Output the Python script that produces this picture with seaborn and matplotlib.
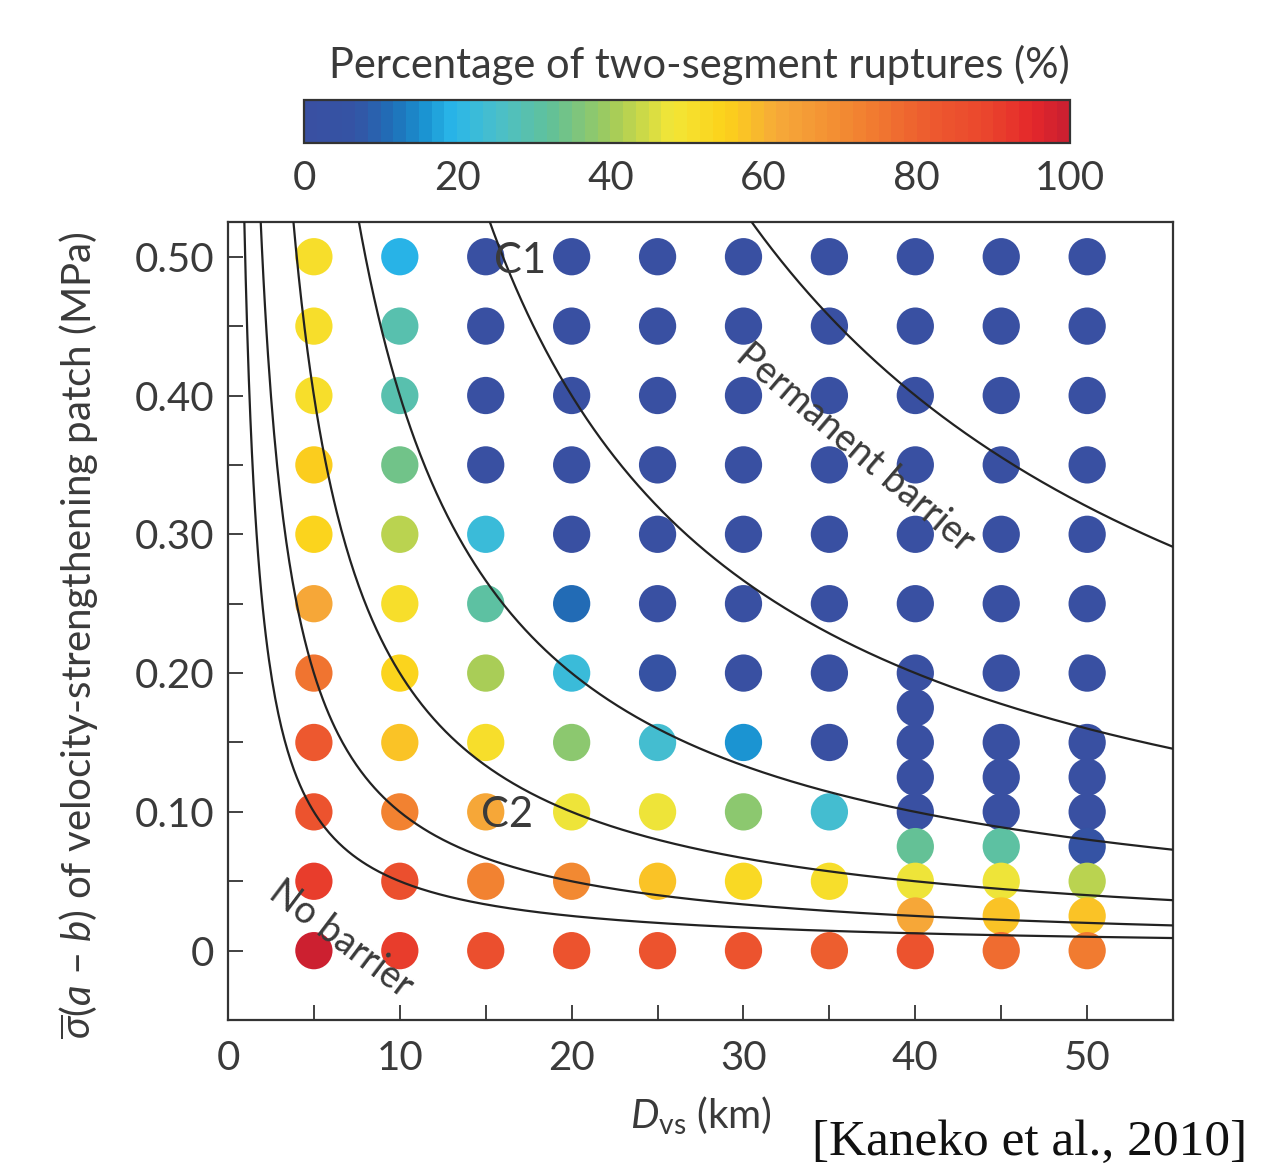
import numpy as np
import pandas as pd
import matplotlib
matplotlib.use("Agg")
import matplotlib.pyplot as plt
import seaborn as sns
from matplotlib.colors import LinearSegmentedColormap, Normalize
from matplotlib.cm import ScalarMappable
from matplotlib.ticker import MultipleLocator

# ---------------- data ----------------
sigma_main = [0.50, 0.45, 0.40, 0.35, 0.30, 0.25, 0.20, 0.15, 0.10, 0.05, 0.00]
sigma_40 = [0.50, 0.45, 0.40, 0.35, 0.30, 0.25, 0.20, 0.175, 0.15, 0.125,
            0.10, 0.075, 0.05, 0.025, 0.00]
sigma_4550 = [0.50, 0.45, 0.40, 0.35, 0.30, 0.25, 0.20, 0.15, 0.125,
              0.10, 0.075, 0.05, 0.025, 0.00]

pct_05 = [50, 50, 50, 55, 54, 63, 75, 83, 84, 90, 99]
pct_10 = [19, 29, 29, 34, 42, 50, 54, 58, 72, 86, 90]
pct_15 = [0, 0, 0, 0, 22, 31, 40, 50, 62, 72, 86]
pct_20 = [0, 0, 0, 0, 0, 10, 23, 38, 48, 70, 84]
pct_25 = [0, 0, 0, 0, 0, 0, 4, 24, 47, 58, 84]
pct_30 = [0, 0, 0, 0, 0, 0, 0, 15, 38, 53, 84]
pct_35 = [0, 0, 0, 0, 0, 0, 0, 0, 24, 50, 80]
pct_40 = [0, 0, 0, 0, 0, 0, 1, 0, 0, 0, 0, 32, 48, 62, 84]
pct_45 = [0, 0, 0, 0, 0, 0, 0, 0, 0, 0, 30, 47, 58, 77]
pct_50 = [0, 0, 0, 0, 0, 0, 0, 0, 0, 0, 5, 42, 58, 74]

# barrier-efficiency curves  sigma*(a-b) = c / D_vs
curve_constants = [0.5, 1.0, 2.0, 4.0, 8.0, 16.0]

cbar_ticks = [0, 20, 40, 60, 80, 100]
x_ticklabels = [0, 10, 20, 30, 40, 50]
y_ticklabels = [0.0, 0.1, 0.2, 0.3, 0.4, 0.5]

columns = [
    (5, sigma_main, pct_05), (10, sigma_main, pct_10), (15, sigma_main, pct_15),
    (20, sigma_main, pct_20), (25, sigma_main, pct_25), (30, sigma_main, pct_30),
    (35, sigma_main, pct_35), (40, sigma_40, pct_40), (45, sigma_4550, pct_45),
    (50, sigma_4550, pct_50),
]
rows = []
for d, sig, pc in columns:
    for s_, p_ in zip(sig, pc):
        rows.append({"D": d, "sigma": s_, "pct": p_})
df = pd.DataFrame(rows)

# ---------------- style ----------------
sns.set_style("white")
plt.rcParams["font.family"] = ["Lato", "DejaVu Sans"]
plt.rcParams["mathtext.fontset"] = "custom"
plt.rcParams["mathtext.rm"] = "Lato"
plt.rcParams["mathtext.it"] = "Lato:italic"
plt.rcParams["mathtext.bf"] = "Lato:bold"
TXT = "#3a3a3a"

cmap = LinearSegmentedColormap.from_list(
    "kaneko",
    [(0.00, "#3950a2"), (0.06, "#3454a4"), (0.11, "#1f6fb8"), (0.15, "#1a92d0"),
     (0.19, "#29b6e9"), (0.25, "#4bbfc9"), (0.32, "#62c198"), (0.40, "#a2cb5a"),
     (0.48, "#f3e637"), (0.55, "#fcd21a"), (0.62, "#f6a939"), (0.72, "#f28631"),
     (0.82, "#ed5b2f"), (0.90, "#ea452d"), (0.96, "#e4272b"), (1.00, "#cc2030")],
    N=60)
norm = Normalize(0, 100)

fig = plt.figure(figsize=(12.63, 11.71), dpi=100)
ax = fig.add_axes([0.1805, 0.1289, 0.7483, 0.6815])

sns.scatterplot(data=df, x="D", y="sigma", hue="pct", palette=cmap,
                hue_norm=(0, 100), s=720, linewidth=0, legend=False,
                ax=ax, zorder=1)

for c in curve_constants:
    xs = np.linspace(c / 0.53, 55, 600)
    ax.plot(xs, c / xs, color="#222222", lw=1.6, zorder=3)

ax.set_xlim(0, 55)
ax.set_ylim(-0.05, 0.525)
ax.set_xticks(x_ticklabels)
ax.set_xticklabels([str(v) for v in x_ticklabels])
ax.set_yticks(y_ticklabels)
ax.set_yticklabels(["0"] + [f"{v:.2f}" for v in y_ticklabels[1:]])
ax.xaxis.set_minor_locator(MultipleLocator(5))
ax.yaxis.set_minor_locator(MultipleLocator(0.05))
ax.tick_params(which="both", direction="in", length=11, width=1.3,
               color="#333333", top=False, right=False, bottom=True, left=True)
ax.tick_params(axis="x", which="major", labelsize=29, pad=14, labelcolor=TXT)
ax.tick_params(axis="y", which="major", labelsize=29, pad=10, labelcolor=TXT)
for sp in ax.spines.values():
    sp.set_color("#333333")
    sp.set_linewidth(1.6)

ax.set_xlabel(r"$D_{\mathrm{vs}}$ (km)", fontsize=29, color=TXT)
ax.xaxis.set_label_coords(0.5, -0.094)
ax.set_ylabel(r"$\overline{\sigma}$($a$ – $b$) of velocity-strengthening patch (MPa)",
              fontsize=29, color=TXT)
ax.yaxis.set_label_coords(-0.135, 0.482)

# annotations
ax.text(15.5, 0.497, "C1", fontsize=30, color=TXT, ha="left", va="center", zorder=4)
ax.text(14.7, 0.098, "C2", fontsize=30, color=TXT, ha="left", va="center", zorder=4)
ax.text(36.5, 0.362, "Permanent barrier", fontsize=27, color=TXT, ha="center",
        va="center", rotation=-40.5, rotation_mode="anchor", zorder=4)
ax.text(6.6, 0.008, "No barrier", fontsize=27, color=TXT, ha="center",
        va="center", rotation=-37, rotation_mode="anchor", zorder=4)

# colorbar
cax = fig.add_axes([0.2407, 0.8779, 0.6065, 0.0367])
sm = ScalarMappable(norm=norm, cmap=cmap)
cb = fig.colorbar(sm, cax=cax, orientation="horizontal")
cb.set_ticks(cbar_ticks)
cb.set_ticklabels([str(t) for t in cbar_ticks])
cax.tick_params(direction="in", length=8, width=1.3, color="#333333",
                labelsize=29, pad=12, labelcolor=TXT)
cb.outline.set_edgecolor("#333333")
cb.outline.set_linewidth(1.6)
fig.text(0.5534, 0.9445, "Percentage of two-segment ruptures (%)", fontsize=30,
         color=TXT, ha="center", va="center")

fig.text(0.643, 0.0137, "[Kaneko et al., 2010]", fontsize=37, color="#111111",
         family="Liberation Serif", ha="left", va="baseline")

fig.savefig("out.png", dpi=100)
